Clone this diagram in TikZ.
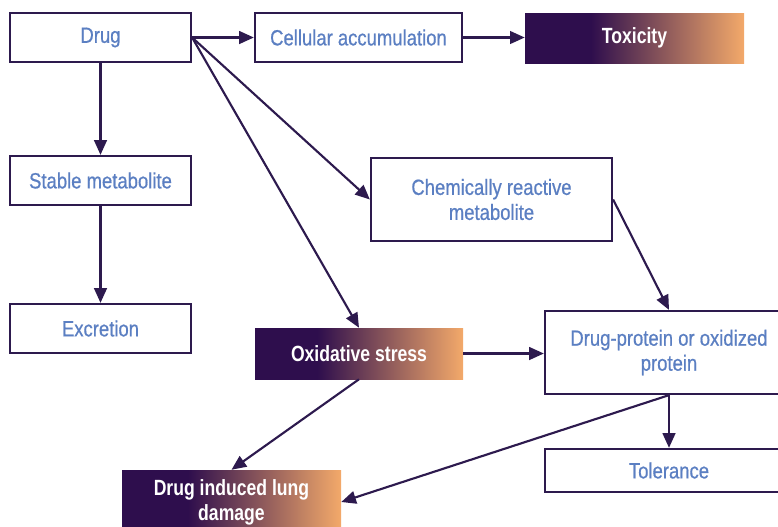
\documentclass[tikz,border=0pt]{standalone}
\usepackage{fontspec}
\setmainfont{Liberation Sans}[FakeStretch=0.84, FakeBold=0.6, BoldFeatures={FakeStretch=0.8, FakeBold=0}]
\usetikzlibrary{arrows.meta}
\definecolor{lineC}{HTML}{2D1A4E}
\definecolor{textC}{HTML}{5B7FC2}
\definecolor{gdark}{HTML}{2E0E4D}
\definecolor{gorange}{HTML}{F3A96A}
\pgfdeclarehorizontalshading{grad}{100bp}{color(0bp)=(gdark); color(40bp)=(gdark); color(75bp)=(gorange); color(100bp)=(gorange)}
\begin{document}
\begin{tikzpicture}[x=0.75pt,y=-0.75pt,
 box/.style={draw=lineC, line width=1.7pt, fill=white, text=textC, inner sep=0pt, align=center, font=\fontsize{16.5}{18.75}\selectfont},
 gbox/.style={shading=grad, text=white, inner sep=0pt, align=center, font=\bfseries\fontsize{16.5}{18.75}\selectfont},
 arr/.style={draw=lineC, line width=1.6pt, -{Triangle[length=11pt,width=9.5pt]}}]
\useasboundingbox (0,0) rectangle (778,526);
\node[box, minimum width=135.75pt, minimum height=36.75pt] (drug) at (100.5,37.5) {Drug};
\node[box, minimum width=155.25pt, minimum height=36.75pt] (cell) at (358.5,37.5) {Cellular accumulation};
\node[gbox, minimum width=164.25pt, minimum height=37.5pt] (tox) at (634.5,38) {Toxicity};
\node[box, minimum width=135.75pt, minimum height=36.75pt] (stable) at (100.5,180.5) {Stable metabolite};
\node[box, minimum width=135.75pt, minimum height=36.75pt] (excr) at (100.5,328.5) {Excretion};
\node[box, minimum width=180.75pt, minimum height=62.25pt] (chem) at (491.5,199.5) {Chemically reactive\\metabolite};
\node[gbox, minimum width=156pt, minimum height=38.25pt] (ox) at (359,353.5) {Oxidative stress};
\node[box, minimum width=186pt, minimum height=62.25pt] (dp) at (669,352.5) {Drug-protein or oxidized\\protein};
\node[box, minimum width=186pt, minimum height=32.25pt] (tol) at (669,470.5) {Tolerance};
\node[gbox, minimum width=164.25pt, minimum height=48pt] (lung) at (231.5,502) {Drug induced lung\\damage};
\draw[arr] (drug.east) -- (cell.west);
\draw[arr] (cell.east) -- (tox.west |- cell.east);
\draw[arr] (drug.south) -- (stable.north);
\draw[arr] (stable.south) -- (excr.north);
\draw[arr] (drug.east) -- (chem.west);
\draw[arr] (drug.east) -- (ox.north);
\draw[arr] (chem.east) -- (dp.north);
\draw[arr] (ox.east) -- (ox.east -| dp.west);
\draw[arr] (ox.south) -- (lung.north);
\draw[arr] (dp.south) -- (tol.north);
\draw[arr] (dp.south) -- (lung.east);
\end{tikzpicture}
\end{document}
